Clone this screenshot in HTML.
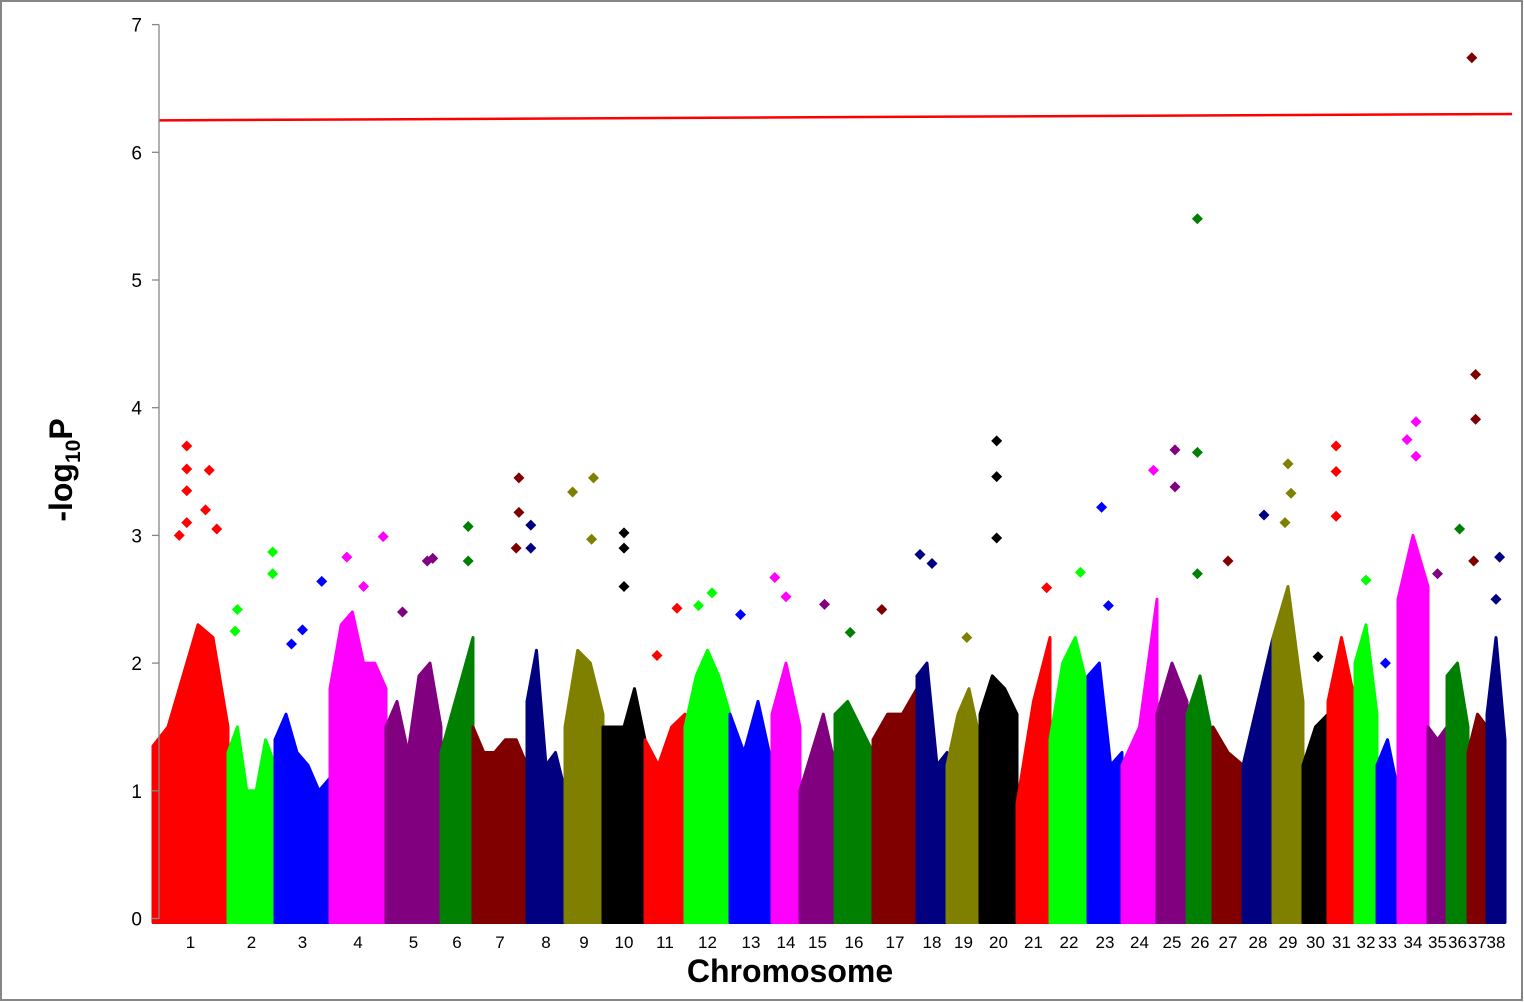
<!DOCTYPE html>
<html><head><meta charset="utf-8"><style>
html,body{margin:0;padding:0;background:#fff}
svg{display:block;font-family:"Liberation Sans",sans-serif}
</style></head><body>
<svg id="chart" width="1524" height="1002" viewBox="0 0 1524 1002" xmlns="http://www.w3.org/2000/svg">
<rect x="1" y="1" width="1521" height="999" fill="#fff" stroke="#868686" stroke-width="2"/>
<g id="marks"></g>
<line x1="159" y1="24.5" x2="159" y2="919" stroke="#868686" stroke-width="1.3"/>
<g id="yaxis"></g>
<g id="xaxis"></g>
<text x="72" y="470" transform="rotate(-90 72 470)" text-anchor="middle" font-size="32" font-weight="bold">-log<tspan font-size="21" dy="8">10</tspan><tspan dy="-8">P</tspan></text>
<text x="790" y="982" text-anchor="middle" font-size="32" font-weight="bold">Chromosome</text>
</svg>
<script>
const chromNames = ["1","2","3","4","5","6","7","8","9","10","11","12","13","14","15","16","17","18","19","20","21","22","23","24","25","26","27","28","29","30","31","32","33","34","35","36","37","38"];
const chromLengths = [75,47,55,56,55,32,54,38,38,42,40,45,42,28,35,38,44,30,33,37,33,38,34,35,30,26,30,30,30,25,27,22,21,30,19,21,19,18];
const envelopes = [
[1.35,1.5,1.9,2.3,2.2,1.5],[1.3,1.5,1.0,1.0,1.4,1.2],[1.4,1.6,1.3,1.2,1.0,1.1],[1.8,2.3,2.4,2.0,2.0,1.8],
[1.5,1.7,1.3,1.9,2.0,1.5],[1.3,1.6,1.9,2.2],[1.5,1.3,1.3,1.4,1.4,1.2],[1.7,2.1,1.2,1.3,1.0],
[1.5,2.1,2.0,1.6],[1.5,1.5,1.5,1.8,1.4],[1.4,1.2,1.5,1.6],[1.5,1.9,2.1,1.9,1.6],[1.6,1.3,1.7,1.2],
[1.6,2.0,1.5],[1.0,1.3,1.6,1.2],[1.6,1.7,1.5,1.3],[1.4,1.6,1.6,1.8],[1.9,2.0,1.2,1.3],[1.2,1.6,1.8,1.4],
[1.6,1.9,1.8,1.6],[0.9,1.7,2.2],[1.4,2.0,2.2,1.8],[1.9,2.0,1.2,1.3],[1.2,1.5,2.5],[1.6,2.0,1.7],
[1.6,1.9,1.4],[1.5,1.3,1.2],[1.2,1.7,2.2],[2.2,2.6,1.7],[1.2,1.5,1.6],[1.7,2.2,1.7],[2.0,2.3,1.6],
[1.2,1.4,1.0],[2.5,3.0,2.6],[1.5,1.4,1.5],[1.9,2.0,1.5],[1.3,1.6,1.5],[1.6,2.2,1.4]];
const outlierChrom = [1,1,1,1,1,1,1,1,2,2,2,2,3,3,3,4,4,4,5,5,5,6,6,7,7,7,8,8,9,9,9,10,10,10,11,11,12,12,13,14,14,15,16,17,18,18,19,20,20,20,21,22,23,23,24,25,25,26,26,26,27,28,29,29,29,30,31,31,31,32,33,34,34,34,35,36,37,37,37,37,38,38];
const outlierFrac = [0.45,0.45,0.75,0.45,0.7,0.45,0.85,0.35,0.95,0.95,0.2,0.15,0.85,0.5,0.3,0.95,0.3,0.6,0.85,0.75,0.3,0.85,0.85,0.85,0.85,0.8,0.1,0.1,0.2,0.75,0.7,0.5,0.5,0.5,0.8,0.3,0.6,0.3,0.25,0.1,0.5,0.7,0.4,0.2,0.1,0.5,0.6,0.45,0.45,0.45,0.9,0.8,0.4,0.6,0.9,0.6,0.6,0.4,0.4,0.4,0.5,0.7,0.5,0.6,0.4,0.6,0.3,0.3,0.3,0.5,0.4,0.3,0.6,0.6,0.5,0.6,0.2,0.4,0.4,0.3,0.7,0.5];
const outlierValue = [3.7,3.52,3.51,3.35,3.2,3.1,3.05,3.0,2.87,2.7,2.42,2.25,2.64,2.26,2.15,2.99,2.83,2.6,2.82,2.8,2.4,3.07,2.8,3.45,3.18,2.9,3.08,2.9,3.34,3.45,2.97,3.02,2.9,2.6,2.43,2.06,2.55,2.45,2.38,2.67,2.52,2.46,2.24,2.42,2.85,2.78,2.2,3.74,3.46,2.98,2.59,2.71,3.22,2.45,3.51,3.67,3.38,5.48,3.65,2.7,2.8,3.16,3.56,3.33,3.1,2.05,3.7,3.5,3.15,2.65,2.0,3.75,3.89,3.62,2.7,3.05,6.74,4.26,3.91,2.8,2.83,2.5];
const yTicks = [0,1,2,3,4,5,6,7];
const thresholdStart = 6.25, thresholdEnd = 6.30;
const palette = ["#ff0000","#00ff00","#0000ff","#ff00ff","#800080","#008000","#800000","#000080","#808000","#000000"];

const NS="http://www.w3.org/2000/svg";
const totalLen = chromLengths.reduce((a,b)=>a+b,0);
const X0=153, X1=1505, Y0=918.5, YPER=127.7;
const xScale = v => X0 + v/totalLen*(X1-X0);
const yScale = v => Y0 - v*YPER;
const starts=[]; let acc=0; chromLengths.forEach(l=>{starts.push(acc);acc+=l;});
function mk(tag,attrs,parent){const e=document.createElementNS(NS,tag);for(const k in attrs)e.setAttribute(k,attrs[k]);parent.appendChild(e);return e;}
const marks=document.getElementById('marks');
const yaxis=document.getElementById('yaxis');
const xaxis=document.getElementById('xaxis');

chromNames.forEach((name,i)=>{
  const col=palette[i%palette.length];
  const g=mk('g',{},marks);
  
  
  const env=envelopes[i];
  const xa=xScale(starts[i]), xb=xScale(starts[i]+chromLengths[i]);
  let pts=[[xa,Y0+4]];
  const n=env.length;
  env.forEach((v,j)=>{
    const f=n===1?0.5:j/(n-1);
    pts.push([xa+(xb-xa)*f, yScale(v)]);
  });
  pts.push([xb,Y0+4]);
  const poly=mk('polygon',{points:pts.map(p=>p.join(',')).join(' '),fill:col,stroke:col,'stroke-width':3,'stroke-linejoin':'round'},g);
  
  
  const t=mk('text',{x:(xa+xb)/2,y:948,'text-anchor':'middle','font-size':17,fill:'#000'},xaxis);
  t.textContent=name;
  
  
});

outlierChrom.forEach((c,k)=>{
  const i=c-1;
  const cx=xScale(starts[i]+chromLengths[i]*outlierFrac[k]);
  const cy=yScale(outlierValue[k]);
  const r=5.5;
  const d=mk('polygon',{points:`${cx},${cy-r} ${cx+r},${cy} ${cx},${cy+r} ${cx-r},${cy}`,fill:palette[i%palette.length]},marks);
  
  
});

yTicks.forEach(v=>{
  const y=yScale(v);
  const l=mk('line',{x1:152,y1:y,x2:159,y2:y,stroke:'#868686','stroke-width':1.3},yaxis);
  
  
  const t=mk('text',{x:142,y:y+7,'text-anchor':'end','font-size':19,fill:'#000'},yaxis);
  t.textContent=v;
  
  
});

const th=mk('line',{x1:159,y1:yScale(thresholdStart),x2:1512,y2:yScale(thresholdEnd),stroke:'#ff0000','stroke-width':2.5},marks);


</script>
</body></html>
